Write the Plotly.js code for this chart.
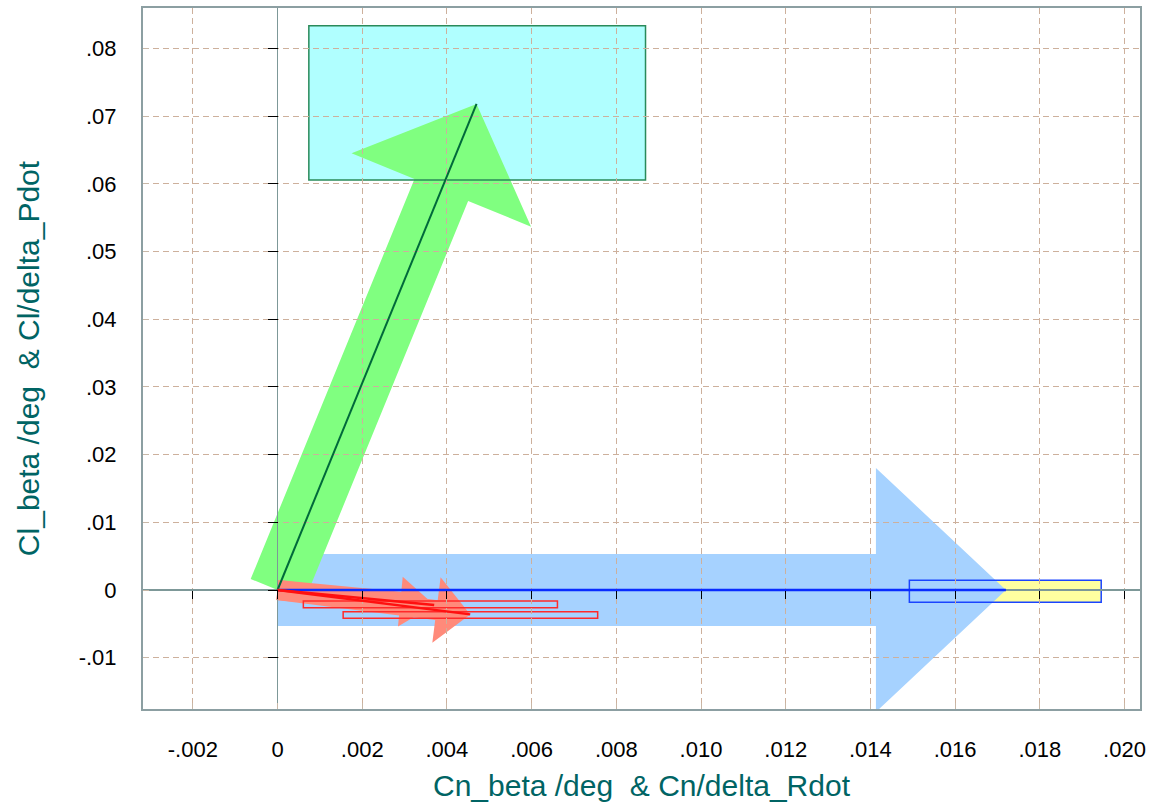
<!DOCTYPE html>
<html>
<head>
<meta charset="utf-8">
<script src="https://cdn.plot.ly/plotly-3.0.1.min.js"></script>
<style>
  html, body { margin: 0; padding: 0; background: #ffffff; }
  #chart { width: 1152px; height: 805px; }
</style>
</head>
<body>
<div id="chart"></div>
<script>
// Axis ticks
const xTickVals = [-0.002, 0, 0.002, 0.004, 0.006, 0.008, 0.010, 0.012, 0.014, 0.016, 0.018, 0.020];
const xTickText = ['-.002', '0', '.002', '.004', '.006', '.008', '.010', '.012', '.014', '.016', '.018', '.020'];
const yTickVals = [-0.01, 0, 0.01, 0.02, 0.03, 0.04, 0.05, 0.06, 0.07, 0.08];
const yTickText = ['-.01', '0', '.01', '.02', '.03', '.04', '.05', '.06', '.07', '.08'];
const xRange = [-0.003176, 0.020366];
const yRange = [-0.017577, 0.085968];

// Derivative vectors (tips), all starting at the origin
const vecNames = ['Pdot', 'Rdot', 'beta1', 'beta2'];
const vecX = [0.0047, 0.0172, 0.0037, 0.00455];
const vecY = [0.0718, 0.0, -0.0022, -0.0036];

// Target boxes around each vector tip
const boxX0 = [0.00074, 0.01492, 0.00061, 0.00155];
const boxX1 = [0.00869, 0.01945, 0.00661, 0.00756];
const boxY0 = [0.06056, -0.00182, -0.00261, -0.00418];
const boxY1 = [0.08335, 0.00143, -0.00163, -0.00321];

// Styling (pixel sizes of the broad arrows, colours)
const arrowStyle = {
  Pdot:  { shaft: 29, head: 97,  headLen: 93,  fill: '#80ff80', line: '#006a3a', lw: 2 },
  Rdot:  { shaft: 36, head: 122, headLen: 130, fill: '#a6d2ff', line: '#0a2cff', lw: 2.5 },
  beta1: { shaft: 10, head: 25,  headLen: 34,  fill: '#ff8a7a', line: '#ff1010', lw: 2.5 },
  beta2: { shaft: 10, head: 33,  headLen: 34,  fill: '#ff8a7a', line: '#ff1010', lw: 2.5 }
};
const boxStyle = {
  Pdot:  { fill: '#b0ffff', line: '#2a8a5a' },
  Rdot:  { fill: '#ffffa0', line: '#1a44ff' },
  beta1: { fill: 'rgba(0,0,0,0)', line: '#ff2a2a' },
  beta2: { fill: 'rgba(0,0,0,0)', line: '#ff2a2a' }
};
const arrowOrder = ['Rdot', 'Pdot', 'beta1', 'beta2'];

const W = 1152, H = 805;
const M = { l: 143, r: 12, t: 8, b: 96 };
const plotW = W - M.l - M.r, plotH = H - M.t - M.b;
const sx = plotW / (xRange[1] - xRange[0]);
const sy = plotH / (yRange[1] - yRange[0]);
const toPx = (x, y) => [(x - xRange[0]) * sx, (yRange[1] - y) * sy];
const toData = (px, py) => [xRange[0] + px / sx, yRange[1] - py / sy];

// Broad arrow outline built in screen space so widths stay perpendicular
function arrowPath(x0, y0, x1, y1, st) {
  const p0 = toPx(x0, y0), p1 = toPx(x1, y1);
  const dx = p1[0] - p0[0], dy = p1[1] - p0[1];
  const L = Math.hypot(dx, dy);
  const u = [dx / L, dy / L], n = [-u[1], u[0]];
  const b = [p0[0] + u[0] * (L - st.headLen), p0[1] + u[1] * (L - st.headLen)];
  const pts = [
    [p0[0] + n[0] * st.shaft, p0[1] + n[1] * st.shaft],
    [b[0] + n[0] * st.shaft, b[1] + n[1] * st.shaft],
    [b[0] + n[0] * st.head, b[1] + n[1] * st.head],
    p1,
    [b[0] - n[0] * st.head, b[1] - n[1] * st.head],
    [b[0] - n[0] * st.shaft, b[1] - n[1] * st.shaft],
    [p0[0] - n[0] * st.shaft, p0[1] - n[1] * st.shaft]
  ].map(p => toData(p[0], p[1]));
  return 'M ' + pts.map(p => p[0] + ',' + p[1]).join(' L ') + ' Z';
}

const shapes = [];
// box fills
vecNames.forEach((nm, i) => {
  if (boxStyle[nm].fill !== 'rgba(0,0,0,0)') {
    shapes.push({ type: 'rect', xref: 'x', yref: 'y', layer: 'below',
      x0: boxX0[i], x1: boxX1[i], y0: boxY0[i], y1: boxY1[i],
      fillcolor: boxStyle[nm].fill, line: { width: 0 } });
  }
});
// broad arrows
arrowOrder.forEach(nm => {
  const i = vecNames.indexOf(nm);
  shapes.push({ type: 'path', xref: 'x', yref: 'y', layer: 'below',
    path: arrowPath(0, 0, vecX[i], vecY[i], arrowStyle[nm]),
    fillcolor: arrowStyle[nm].fill, line: { width: 0 } });
});
// box outlines
vecNames.forEach((nm, i) => {
  shapes.push({ type: 'rect', xref: 'x', yref: 'y', layer: 'below',
    x0: boxX0[i], x1: boxX1[i], y0: boxY0[i], y1: boxY1[i],
    fillcolor: 'rgba(0,0,0,0)', line: { color: boxStyle[nm].line, width: 1.5 } });
});

// thin vector lines
const traces = vecNames.map((nm, i) => ({
  type: 'scatter', mode: 'lines', name: nm,
  x: [0, vecX[i]], y: [0, vecY[i]],
  line: { color: arrowStyle[nm].line, width: arrowStyle[nm].lw },
  hoverinfo: 'skip', showlegend: false
}));
// carrier for the tick marks drawn along the zero lines
traces.push({ type: 'scatter', mode: 'lines', x: [], y: [], xaxis: 'x2', yaxis: 'y2',
  hoverinfo: 'skip', showlegend: false });

const titleFont = { family: 'Liberation Sans, Arial, sans-serif', size: 30, color: '#006464' };
const tickFont = { family: 'Liberation Sans, Arial, sans-serif', size: 22, color: '#000000' };
const gridColor = '#cdb09c';
const frameColor = '#8c9fa2';

const layout = {
  width: W, height: H,
  margin: M,
  paper_bgcolor: '#ffffff', plot_bgcolor: '#ffffff',
  showlegend: false,
  shapes: shapes,
  xaxis: {
    range: xRange, autorange: false,
    tickvals: xTickVals, ticktext: xTickText, tickfont: tickFont,
    ticks: 'inside', ticklen: 6, tickcolor: '#c8b8a8',
    ticklabelstandoff: 20,
    showgrid: true, gridcolor: gridColor, griddash: '6px,4px', gridwidth: 1,
    zeroline: true, zerolinecolor: '#7d9898', zerolinewidth: 1.5,
    showline: true, mirror: true, linecolor: frameColor, linewidth: 2,
    title: { text: 'Cn_beta /deg  & Cn/delta_Rdot', font: titleFont, standoff: 14 }
  },
  yaxis: {
    range: yRange, autorange: false,
    tickvals: yTickVals, ticktext: yTickText, tickfont: tickFont,
    ticks: 'inside', ticklen: 6, tickcolor: '#c8b8a8',
    ticklabelstandoff: 20,
    showgrid: true, gridcolor: gridColor, griddash: '6px,4px', gridwidth: 1,
    zeroline: true, zerolinecolor: '#7d9898', zerolinewidth: 1.5,
    showline: true, mirror: true, linecolor: frameColor, linewidth: 2,
    title: { text: 'Cl_beta /deg  & Cl/delta_Pdot', font: titleFont, standoff: 30 }
  },
  xaxis2: {
    overlaying: 'x', anchor: 'free', side: 'bottom',
    position: (0 - yRange[0]) / (yRange[1] - yRange[0]),
    range: xRange, autorange: false, tickvals: xTickVals,
    ticks: 'outside', ticklen: 8, tickcolor: '#000000', tickwidth: 1,
    showticklabels: false, showgrid: false, zeroline: false, showline: false
  },
  yaxis2: {
    overlaying: 'y', anchor: 'free', side: 'left',
    position: (0 - xRange[0]) / (xRange[1] - xRange[0]),
    range: yRange, autorange: false, tickvals: yTickVals,
    ticks: 'outside', ticklen: 10, tickcolor: '#000000', tickwidth: 1,
    showticklabels: false, showgrid: false, zeroline: false, showline: false
  }
};

Plotly.newPlot('chart', traces, layout, { staticPlot: true, displayModeBar: false });
</script>
</body>
</html>
